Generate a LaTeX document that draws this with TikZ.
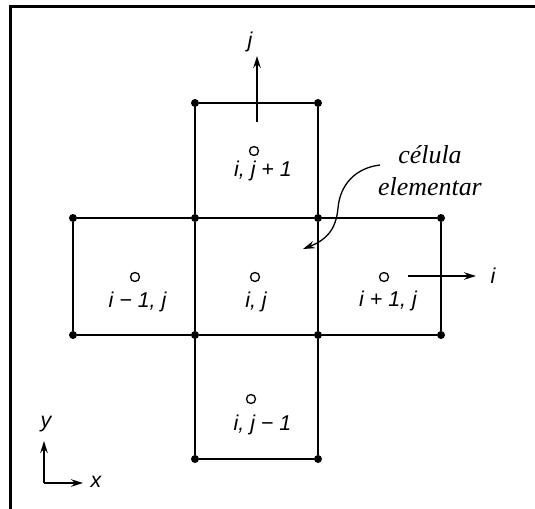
\documentclass[tikz,border=0pt]{standalone}
\usepackage{fontspec}
\setmainfont{Liberation Serif}
\setsansfont{Liberation Sans}
\usetikzlibrary{arrows.meta}
\begin{document}
\begin{tikzpicture}[x=1bp,y=-1bp,
  dot/.style={circle,fill=black,inner sep=0pt,minimum size=8bp},
  cellc/.style={circle,draw=black,line width=1.3bp,inner sep=0pt,minimum size=9bp},
  gridline/.style={line width=2bp},
  lab/.style={font=\sffamily\itshape\fontsize{21.5}{24}\selectfont,inner sep=0pt,anchor=base},
  ax/.style={line width=1.5bp,-{Stealth[length=12bp,width=7.5bp]}},
  note/.style={font=\itshape\fontsize{26}{32}\selectfont,inner sep=0pt,align=center}]
\useasboundingbox (0,0) rectangle (535,509);
% frame
\draw[line width=3bp] (10.5,509) -- (10.5,6.5) -- (535,6.5);
% grid points
\foreach \n/\x/\y in {a1/195/103, a2/318/103,
  b0/73/218, b1/195/218, b2/318/218, b3/441/218,
  c0/73/335, c1/195/335, c2/318/335, c3/441/335,
  d1/195/459, d2/318/459}
  \node[dot] (\n) at (\x,\y) {};
% lines
\draw[gridline] (a1) -- (a2);
\draw[gridline] (b0) -- (b1) -- (b2) -- (b3);
\draw[gridline] (c0) -- (c1) -- (c2) -- (c3);
\draw[gridline] (d1) -- (d2);
\draw[gridline] (b0) -- (c0);
\draw[gridline] (b3) -- (c3);
\draw[gridline] (a1) -- (b1) -- (c1) -- (d1);
\draw[gridline] (a2) -- (b2) -- (c2) -- (d2);
% cell centres
\node[cellc] (o1) at (254,151) {};
\node[cellc] (o2) at (135,277) {};
\node[cellc] (o3) at (255,277) {};
\node[cellc] (o4) at (384,277) {};
\node[cellc] (o5) at (251,399) {};
% labels
\node[lab] (t1) at (263,177) {i, j + 1};
\node[lab] (t2) at (137.5,307) {i − 1, j};
\node[lab] (t3) at (256,307) {i, j};
\node[lab] (t4) at (388,306) {i + 1, j};
\node[lab] (t5) at (262.5,430) {i, j − 1};
% j arrow
\coordinate (js) at (257,122);
\coordinate (je) at (257,56);
\draw[ax] (js) -- (je);
\node[lab,anchor=center] (jl) at (250,42) {j};
% i arrow
\coordinate (is) at (408,276);
\coordinate (ie) at (476,276);
\draw[ax] (is) -- (ie);
\node[lab,anchor=center] (il) at (493,276) {i};
% note
\node[note] (nt) at (430,171) {célula\\elementar};
\coordinate (cs) at (380,165);
\coordinate (ce) at (303,249);
\draw[line width=1.3bp,-{Stealth[length=12bp,width=7.5bp]}] (cs) .. controls (355,168) and (340,185) .. (338,208) .. controls (336,230) and (326,240) .. (ce);
% xy axes
\coordinate (xo) at (44,483);
\coordinate (xy) at (44,441);
\coordinate (xx) at (83,483);
\draw[ax] (xo) -- (xy);
\draw[ax] (xo) -- (xx);
\node[lab,anchor=center] (yl) at (46,424) {y};
\node[lab,anchor=center] (xl) at (96,482) {x};
\end{tikzpicture}
\end{document}
